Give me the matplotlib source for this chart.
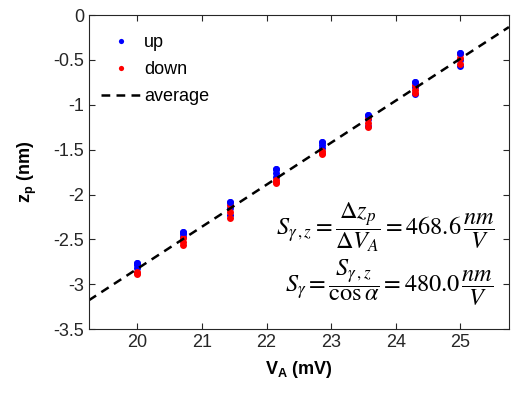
import numpy as np
import matplotlib
matplotlib.use('Agg')
import matplotlib.pyplot as plt
from matplotlib.ticker import FuncFormatter

plt.rcParams['font.family'] = ['Liberation Sans', 'DejaVu Sans']
plt.rcParams['mathtext.fontset'] = 'custom'
plt.rcParams['mathtext.rm'] = 'STIXGeneral'
plt.rcParams['mathtext.it'] = 'STIXGeneral:italic'
plt.rcParams['mathtext.bf'] = 'Liberation Sans:bold'
plt.rcParams['mathtext.fallback'] = 'stix'
plt.rcParams['axes.unicode_minus'] = False

# Actuator voltage steps (mV)
va = [20.0, 20.71, 21.43, 22.14, 22.86, 23.57, 24.29, 25.0]

# z_p readings (nm), three sweeps each direction
z_up = [
    [-2.76, -2.79, -2.82],
    [-2.42, -2.44, -2.47],
    [-2.08, -2.15, -2.23],
    [-1.72, -1.76, -1.81],
    [-1.42, -1.45, -1.48],
    [-1.11, -1.16, -1.24],
    [-0.75, -0.80, -0.88],
    [-0.42, -0.50, -0.57],
]
z_down = [
    [-2.86, -2.88, -2.89],
    [-2.49, -2.53, -2.56],
    [-2.12, -2.19, -2.26],
    [-1.84, -1.86, -1.87],
    [-1.52, -1.54, -1.55],
    [-1.15, -1.20, -1.25],
    [-0.78, -0.83, -0.87],
    [-0.43, -0.48, -0.54],
]

# fitted average line
slope = 0.4686
intercept = -12.20

fig, ax = plt.subplots(figsize=(5.13, 3.97), dpi=100)
fig.subplots_adjust(left=0.173, right=0.992, top=0.962, bottom=0.171)

xu = np.repeat(va, 3)
ax.plot(xu, np.ravel(z_up), 'o', color='#0000ff', ms=5, mec='none', label='up')
ax.plot(xu, np.ravel(z_down), 'o', color='#ff0000', ms=5, mec='none', label='down')
# some blue drawn on top, the colours interleave in the original
ax.plot(xu[::3], np.array(z_up)[:, 0], 'o', color='#0000ff', ms=5, mec='none')

xl = np.array([19.25, 25.75])
ax.plot(xl, slope * xl + intercept, '--', color='black', lw=1.8,
        dashes=(3.5, 2.5), label='average')

ax.set_xlim(19.25, 25.75)
ax.set_ylim(-3.5, 0)
ax.set_xticks([20, 21, 22, 23, 24, 25])
ax.set_yticks(np.arange(-3.5, 0.01, 0.5))
ax.yaxis.set_major_formatter(FuncFormatter(lambda v, p: '%g' % v))
ax.tick_params(direction='in', top=True, right=True, labelsize=13,
               length=4, width=0.8, colors='#262626')
for s in ax.spines.values():
    s.set_linewidth(0.8)
    s.set_color('#262626')

ax.set_xlabel(r'$\mathbf{V_A}$ (mV)', fontsize=13, fontweight='bold', labelpad=6)
ax.set_ylabel(r'$\mathbf{z_p}$ (nm)', fontsize=13, fontweight='bold', labelpad=10)

ax.legend(loc='upper left', frameon=False, fontsize=13, handlelength=2.2,
          handletextpad=0.15, borderaxespad=0.3, labelspacing=0.55,
          markerscale=0.75, bbox_to_anchor=(0.0, 0.98))

ax.text(0.967, 0.325, r'$S_{\gamma\,,z}=\dfrac{\Delta z_p}{\Delta V_A}=468.6\,\dfrac{nm}{V}$',
        transform=ax.transAxes, ha='right', va='center', fontsize=17.5)
ax.text(0.962, 0.148, r'$S_{\gamma}=\dfrac{S_{\gamma\,,z}}{\cos\alpha}=480.0\,\dfrac{nm}{V}$',
        transform=ax.transAxes, ha='right', va='center', fontsize=17.5)

fig.savefig('out.png', dpi=100)
